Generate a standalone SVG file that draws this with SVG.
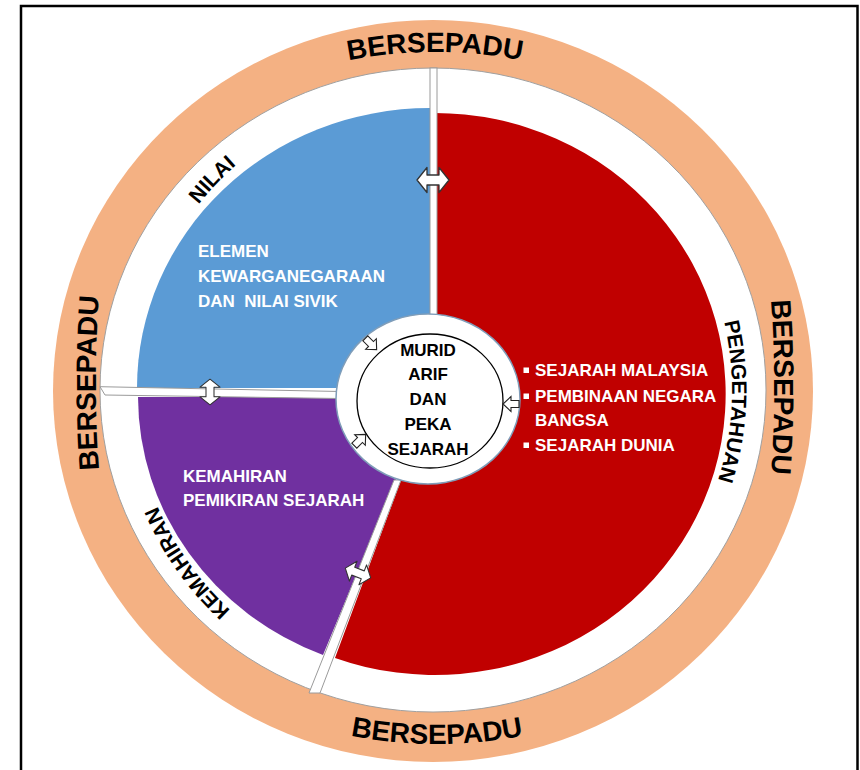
<svg xmlns="http://www.w3.org/2000/svg" width="860" height="770" viewBox="0 0 860 770">
<style>
  text { font-family: "Liberation Sans", Arial, sans-serif; font-weight: bold; }
  .w { fill: #ffffff; font-size: 17px; }
  .lbl { fill: #000000; font-size: 21px; }
  .bs { fill: #000000; font-size: 28px; }
  .ctr { fill: #000000; font-size: 17px; text-anchor: middle; }
  .bar { fill: #ffffff; stroke: #9a9a9a; stroke-width: 1; }
  .dbl { fill: #ffffff; stroke: #333333; stroke-width: 1.3; stroke-linejoin: round; }
  .sm { fill: #ffffff; stroke: #222222; stroke-width: 1.1; }
  .bul { fill: #ffffff; }
</style>
<defs>
  <polygon id="dblArrow" points="-16,0 -6,-12.5 -6,-5 6,-5 6,-12.5 16,0 6,12.5 6,5 -6,5 -6,12.5"/>
  <polygon id="smArrow" points="-8,-3.5 0,-3.5 0,-7.5 8,0 0,7.5 0,3.5 -8,3.5"/>
  <path id="pTop" d="M300,72.7 A450,450 0 0 1 570,72.7"/>
  <path id="pBottom" d="M302,723.3 A450,450 0 0 0 572,723.3"/>
  <path id="pLeft" d="M104,523 A1200,1200 0 0 1 104,243"/>
  <path id="pRight" d="M766,247 A1200,1200 0 0 1 766,527"/>
  <path id="pNilai" d="M134.6,371.2 A299,299 0 0 1 399.7,92.9"/>
  <path id="pKemahiran" d="M356.1,679 A299,299 0 0 1 135.1,364.5"/>
  <path id="pPengetahuan" d="M669.3,206.7 A299,299 0 0 1 654.5,590.8"/>
</defs>

<rect x="0" y="0" width="860" height="770" fill="#ffffff"/>
<path id="frame" d="M21,770 V6 H857.5 V770" fill="none" stroke="#000000" stroke-width="2.5"/>

<g id="ring-bersepadu">
  <ellipse cx="433" cy="391" rx="380" ry="371" fill="#F4B183"/>
  <ellipse cx="433" cy="390" rx="333" ry="322" fill="#ffffff" stroke="#a0a0a0" stroke-width="1"/>
  <text class="bs"><textPath href="#pTop" startOffset="50%" text-anchor="middle">BERSEPADU</textPath></text>
  <text class="bs"><textPath href="#pBottom" startOffset="50%" text-anchor="middle">BERSEPADU</textPath></text>
  <text class="bs"><textPath href="#pLeft" startOffset="50%" text-anchor="middle">BERSEPADU</textPath></text>
  <text class="bs"><textPath href="#pRight" startOffset="50%" text-anchor="middle">BERSEPADU</textPath></text>
</g>

<g id="segment-nilai">
  <path d="M430,388 L430,108 A293,280 0 0 0 137,388 Z" fill="#5B9BD5"/>
  <text class="lbl"><textPath href="#pNilai" startOffset="50%" text-anchor="middle">NILAI</textPath></text>
  <text class="w" x="198" y="257">ELEMEN</text>
  <text class="w" x="198" y="282">KEWARGANEGARAAN</text>
  <text class="w" x="198" y="307" xml:space="preserve" style="white-space:pre">DAN  NILAI SIVIK</text>
</g>

<g id="segment-kemahiran">
  <path d="M430,397 L138,397 A292,278 0 0 0 323,655 Z" fill="#7030A0"/>
  <text class="lbl"><textPath href="#pKemahiran" startOffset="50%" text-anchor="middle">KEMAHIRAN</textPath></text>
  <text class="w" x="183" y="482">KEMAHIRAN</text>
  <text class="w" x="183" y="506">PEMIKIRAN SEJARAH</text>
</g>

<g id="segment-pengetahuan">
  <path d="M433,394 L433,113 A291,281 0 1 1 335,658 Z" fill="#C00000"/>
  <text class="lbl"><textPath href="#pPengetahuan" startOffset="50%" text-anchor="middle">PENGETAHUAN</textPath></text>
  <rect class="bul" x="523.5" y="367.5" width="5.5" height="5.5"/>
  <text class="w" x="535" y="376">SEJARAH MALAYSIA</text>
  <rect class="bul" x="523.5" y="393.5" width="5.5" height="5.5"/>
  <text class="w" x="535" y="402">PEMBINAAN NEGARA</text>
  <text class="w" x="535" y="426">BANGSA</text>
  <rect class="bul" x="523.5" y="442.5" width="5.5" height="5.5"/>
  <text class="w" x="535" y="451">SEJARAH DUNIA</text>
</g>

<g id="connectors">
  <rect class="bar" x="430" y="68" width="7" height="262"/>
  <polygon class="bar" points="100,386.7 340,391.5 340,398.5 105,395"/>
  <polygon class="bar" points="309,693 320,693 401,480 394,480"/>
  <use href="#dblArrow" class="dbl" transform="translate(433,180)"/>
  <use href="#dblArrow" class="dbl" transform="translate(210,392) rotate(90) scale(0.8)"/>
  <use href="#dblArrow" class="dbl" transform="translate(358,573) rotate(21) scale(0.85)"/>
</g>

<g id="center-murid">
  <ellipse cx="428" cy="399" rx="92" ry="85" fill="#ffffff" stroke="#7F9DB9" stroke-width="1.5"/>
  <ellipse cx="430" cy="401" rx="73" ry="67" fill="none" stroke="#000000" stroke-width="1.3"/>
  <text class="ctr" x="428" y="356">MURID</text>
  <text class="ctr" x="428" y="380">ARIF</text>
  <text class="ctr" x="428" y="405">DAN</text>
  <text class="ctr" x="428" y="430">PEKA</text>
  <text class="ctr" x="428" y="455">SEJARAH</text>
</g>

<g id="center-arrows">
  <use href="#smArrow" class="sm" transform="translate(371,344) rotate(45)"/>
  <use href="#smArrow" class="sm" transform="translate(511,404) rotate(180)"/>
  <use href="#smArrow" class="sm" transform="translate(360,440) rotate(-45)"/>
</g>
</svg>
